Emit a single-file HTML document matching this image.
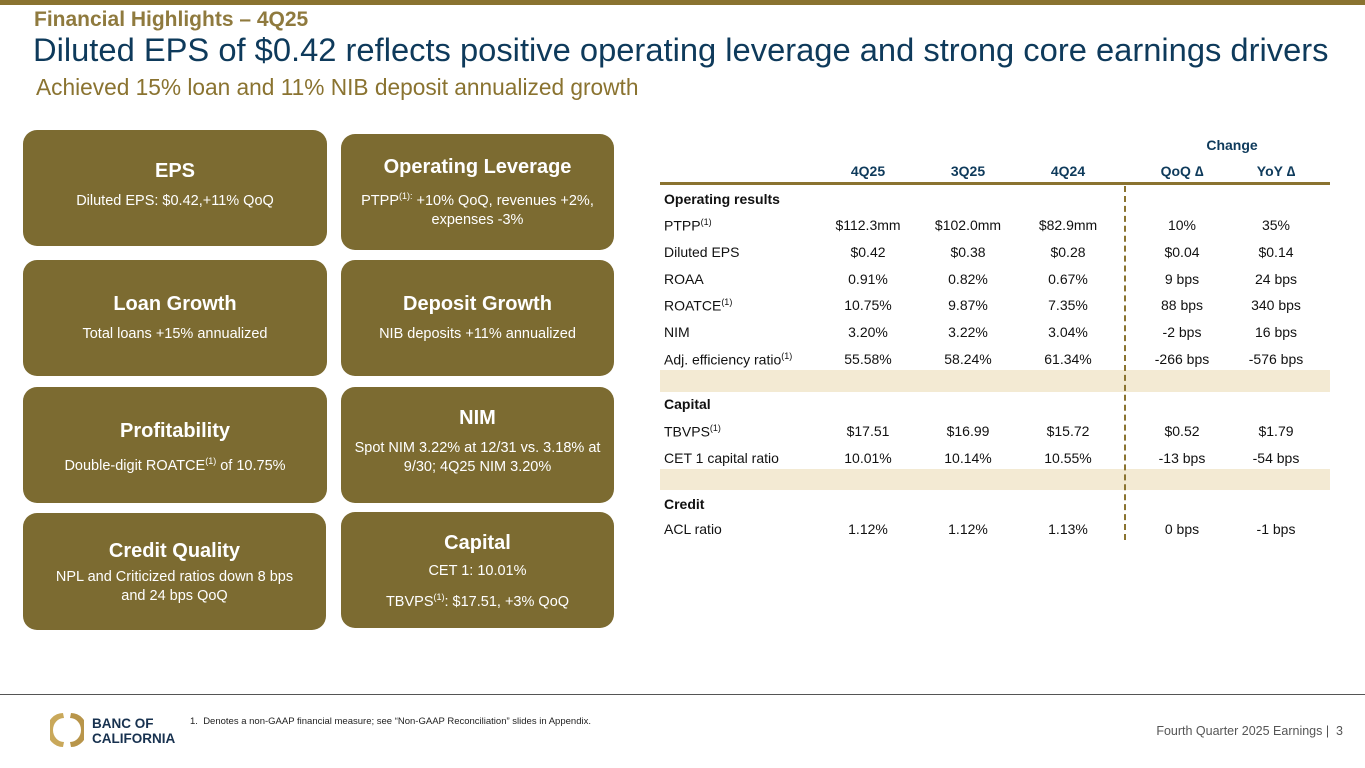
<!DOCTYPE html>
<html><head><meta charset="utf-8"><style>
body{margin:0;width:1365px;height:768px;position:relative;overflow:hidden;background:#fff;font-family:"Liberation Sans",Arial,sans-serif}
.a{position:absolute}
.box{position:absolute;background:#7c6b31;border-radius:14px;color:#fff;text-align:center;box-sizing:border-box}
.box h3{margin:0;font-size:20px;font-weight:bold}
.box p{margin:0;font-size:14.5px;line-height:19px}
.c{position:absolute;font-size:14px;color:#111;transform:translateX(-50%);white-space:nowrap}
.l{position:absolute;font-size:14px;color:#111;white-space:nowrap}
sup{font-size:9px}
</style></head><body>
<div class="a" style="left:0;top:0;width:1365px;height:5px;background:#8a7330"></div>
<div class="a" style="left:34px;top:8px;font-size:21px;font-weight:bold;color:#8f7a3e">Financial Highlights – 4Q25</div>
<div class="a" style="left:33px;top:31px;font-size:32.7px;color:#0e3a5b;white-space:nowrap">Diluted EPS of $0.42 reflects positive operating leverage and strong core earnings drivers</div>
<div class="a" style="left:36px;top:74px;font-size:22.7px;color:#8a7330;white-space:nowrap">Achieved 15% loan and 11% NIB deposit annualized growth</div>

<div class="box" style="left:23px;top:130px;width:304px;height:116px;padding-top:30px"><h3>EPS</h3><p style="margin-top:9px">Diluted EPS: $0.42,+11% QoQ</p></div>
<div class="box" style="left:341px;top:134px;width:273px;height:116px;padding-top:22px"><h3>Operating Leverage</h3><p style="margin-top:8px">PTPP<sup>(1):</sup> +10% QoQ, revenues +2%,<br>expenses -3%</p></div>
<div class="box" style="left:23px;top:260px;width:304px;height:116px;padding-top:33px"><h3>Loan Growth</h3><p style="margin-top:9px">Total loans +15% annualized</p></div>
<div class="box" style="left:341px;top:260px;width:273px;height:116px;padding-top:33px"><h3>Deposit Growth</h3><p style="margin-top:9px">NIB deposits +11% annualized</p></div>
<div class="box" style="left:23px;top:387px;width:304px;height:116px;padding-top:33px"><h3>Profitability</h3><p style="margin-top:9px">Double-digit ROATCE<sup>(1)</sup> of 10.75%</p></div>
<div class="box" style="left:341px;top:387px;width:273px;height:116px;padding-top:20px"><h3>NIM</h3><p style="margin-top:9px">Spot NIM 3.22% at 12/31 vs. 3.18% at<br>9/30; 4Q25 NIM 3.20%</p></div>
<div class="box" style="left:23px;top:513px;width:303px;height:117px;padding-top:27px"><h3>Credit Quality</h3><p style="margin-top:5px">NPL and Criticized ratios down 8 bps<br>and 24 bps QoQ</p></div>
<div class="box" style="left:341px;top:512px;width:273px;height:116px;padding-top:20px"><h3>Capital</h3><p style="margin-top:7px">CET 1: 10.01%</p><p style="margin-top:7px">TBVPS<sup>(1)</sup>: $17.51, +3% QoQ</p></div>

<div id="tbl"></div>
<div class="a" style="left:0;top:694px;width:1365px;height:1px;background:#555"></div>
<svg class="a" style="left:50px;top:712px" width="34" height="36" viewBox="0 0 34 36"><path d="M13 1 A16 17 0 0 0 13 35 L14 30 A11 12 0 0 1 14 6 Z" fill="#c9a85a"/><path d="M21 1 A16 17 0 0 1 21 35 L20 30 A11 12 0 0 0 20 6 Z" fill="#b8954a"/></svg>
<div class="a" style="left:92px;top:716px;font-size:13.5px;font-weight:bold;color:#17314f;line-height:15px">BANC OF<br>CALIFORNIA</div>
<div class="a" style="left:190px;top:716px;font-size:9.5px;color:#222;white-space:nowrap">1.&nbsp; Denotes a non-GAAP financial measure; see “Non-GAAP Reconciliation” slides in Appendix.</div>
<div class="a" style="right:22px;top:724px;font-size:12.5px;color:#555;white-space:nowrap">Fourth Quarter 2025 Earnings | &nbsp;3</div>
<script>
const cols=[868,968,1068,1182,1276];
const headers=["4Q25","3Q25","4Q24","QoQ ∆","YoY ∆"];
const rows=[
["h","Operating results",200],
["PTPP<sup>(1)</sup>",226,["$112.3mm","$102.0mm","$82.9mm","10%","35%"]],
["Diluted EPS",253,["$0.42","$0.38","$0.28","$0.04","$0.14"]],
["ROAA",280,["0.91%","0.82%","0.67%","9 bps","24 bps"]],
["ROATCE<sup>(1)</sup>",306,["10.75%","9.87%","7.35%","88 bps","340 bps"]],
["NIM",333,["3.20%","3.22%","3.04%","-2 bps","16 bps"]],
["Adj. efficiency ratio<sup>(1)</sup>",360,["55.58%","58.24%","61.34%","-266 bps","-576 bps"]],
["h","Capital",405],
["TBVPS<sup>(1)</sup>",432,["$17.51","$16.99","$15.72","$0.52","$1.79"]],
["CET 1 capital ratio",459,["10.01%","10.14%","10.55%","-13 bps","-54 bps"]],
["h","Credit",505],
["ACL ratio",530,["1.12%","1.12%","1.13%","0 bps","-1 bps"]]];
let h='';
h+='<div class="a" style="left:660px;top:370px;width:670px;height:22px;background:#f3ead3"></div>';
h+='<div class="a" style="left:660px;top:469px;width:670px;height:21px;background:#f3ead3"></div>';
h+='<div class="c" style="left:1232px;top:137px;font-weight:bold;color:#0e3a5b">Change</div>';
headers.forEach((t,i)=>{h+='<div class="c" style="left:'+cols[i]+'px;top:163px;font-weight:bold;color:#0e3a5b">'+t+'</div>';});
h+='<div class="a" style="left:660px;top:182px;width:670px;height:3px;background:#8a7330"></div>';
h+='<div class="a" style="left:1124px;top:186px;width:0;height:354px;border-left:2px dashed #8a7330"></div>';
rows.forEach(r=>{
 if(r[0]==="h"){h+='<div class="l" style="left:664px;top:'+(r[2]-9)+'px;font-weight:bold">'+r[1]+'</div>';return;}
 h+='<div class="l" style="left:664px;top:'+(r[1]-9)+'px">'+r[0]+'</div>';
 r[2].forEach((v,i)=>{h+='<div class="c" style="left:'+cols[i]+'px;top:'+(r[1]-9)+'px">'+v+'</div>';});
});
document.getElementById('tbl').innerHTML=h;
</script>
</body></html>
